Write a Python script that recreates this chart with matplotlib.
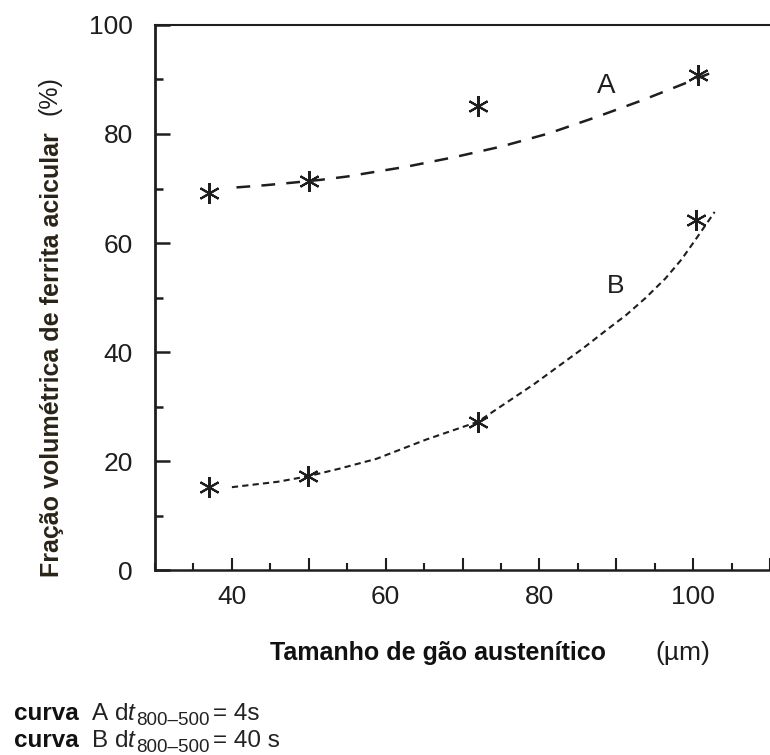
import numpy as np
import matplotlib
matplotlib.use("Agg")
import matplotlib.pyplot as plt
from matplotlib.ticker import MultipleLocator

plt.rcParams['font.family'] = ['Liberation Sans', 'DejaVu Sans']

# measured points (grain size in um, acicular ferrite %)
grain = [37.0, 50.0, 72.0, 100.6]
frac_a = [69.2, 71.3, 85.1, 90.8]
grain_b = [37.0, 49.9, 72.0, 100.4]
frac_b = [15.2, 17.2, 27.2, 64.2]

curve_a_x = [40.6, 44.3, 48.1, 51.6, 55.0, 57.1, 62.7, 69.1, 75.05, 81.2, 87.4, 93.4, 98.95, 103.0]
curve_a_y = [70.2, 70.6, 71.1, 71.6, 72.2, 72.7, 74.0, 75.8, 77.7, 80.1, 83.1, 86.2, 89.3, 91.6]
curve_b_x = [40.0, 46.0, 49.9, 54.0, 58.8, 65.2, 72.0, 79.3, 85.7, 88.7, 91.3, 93.8, 96.4, 98.5, 100.5, 102.8]
curve_b_y = [15.2, 16.2, 17.2, 18.6, 20.4, 23.9, 27.2, 34.1, 40.7, 44.0, 46.8, 49.9, 53.5, 57.0, 61.0, 65.7]

notes = [('A', '4s'), ('B', '40 s')]

ink = '#1e1e1e'
plot_font = ['Liberation Sans Narrow', 'Liberation Sans', 'DejaVu Sans']

fig = plt.figure(figsize=(7.7, 7.55), dpi=100)
ax = fig.add_axes([0.2013, 0.2450, 0.7987, 0.7219])

ax.plot(curve_a_x, curve_a_y, color=ink, lw=1.8, linestyle=(0, (5.5, 4.5)))
ax.plot(curve_b_x, curve_b_y, color=ink, lw=1.5, linestyle=(0, (3, 2)))
star = (6, 2, 0)
ax.plot(grain, frac_a, linestyle='none', marker=star, ms=15, mew=1.5, color=ink)
ax.plot(grain_b, frac_b, linestyle='none', marker=star, ms=15, mew=1.5, color=ink)

ax.text(88.7, 88.8, 'A', fontsize=20, family=plot_font, color=ink, ha='center', va='center')
ax.text(89.9, 52.1, 'B', fontsize=19, family=plot_font, color=ink, ha='center', va='center')

ax.set_xlim(30, 108.8)
ax.set_ylim(0, 100)
ax.xaxis.set_minor_locator(MultipleLocator(5))
ax.yaxis.set_major_locator(MultipleLocator(20))
ax.yaxis.set_minor_locator(MultipleLocator(10))
ax.set_xticks([40, 50, 60, 70, 80, 90, 100, 110])
ax.set_xticklabels(['40', '', '60', '', '80', '', '100', ''])
ax.tick_params(axis='x', which='major', direction='in', length=9, width=1.5, pad=11,
               labelsize=19, colors=ink)
ax.tick_params(axis='x', which='minor', direction='in', length=5, width=1.5, colors=ink)
ax.tick_params(axis='y', which='major', direction='in', length=11, width=1.8, pad=16,
               labelsize=19, colors=ink)
ax.tick_params(axis='y', which='minor', direction='in', length=6, width=1.8, colors=ink)

ax.spines['right'].set_visible(False)
ax.spines['left'].set_linewidth(2.0)
ax.spines['bottom'].set_linewidth(1.8)
ax.spines['top'].set_linewidth(1.5)
for s in ['left', 'bottom', 'top']:
    ax.spines[s].set_color(ink)

# axis titles
fig.text(52 / 770, 1 - 577 / 755, 'Fração volumétrica de ferrita acicular', rotation=90,
         fontsize=18, fontweight='bold', color='#2a2418', ha='center', va='bottom')
fig.text(50 / 770, 1 - 96 / 755, '(%)', rotation=90, fontsize=18, family=plot_font,
         color=ink, ha='center', va='center')
fig.text(270 / 770, 1 - 660 / 755, 'Tamanho de gão austenítico', fontsize=18,
         fontweight='bold', color='#111111', ha='left', va='baseline')
fig.text(655 / 770, 1 - 660 / 755, '(µm)', fontsize=19, family=plot_font,
         color=ink, ha='left', va='baseline')

# curve notes, laid out piece by piece
renderer = fig.canvas.get_renderer()
W, H = fig.bbox.width, fig.bbox.height
for i, (name, dt) in enumerate(notes):
    base = 1 - (720 + 27 * i) / 755
    pieces = [('curva', dict(fontweight='bold', color='#111111'), 0, 0),
              (name, dict(color='#222222'), 13, 0),
              ('d', dict(color='#222222'), 7, 0),
              ('t', dict(color='#222222', style='italic'), 0, 0),
              ('800–500', dict(color='#222222', fontsize=13.5), 1, -5),
              ('= ' + dt, dict(color='#222222'), 3, 0)]
    x = 14
    for txt, kw, gap, dy in pieces:
        x += gap
        kw = dict(kw)
        kw.setdefault('fontsize', 17.5)
        t = fig.text(x / W, base + dy / H, txt, va='baseline', ha='left', **kw)
        x = t.get_window_extent(renderer).x1

fig.savefig('out.png', dpi=100)
